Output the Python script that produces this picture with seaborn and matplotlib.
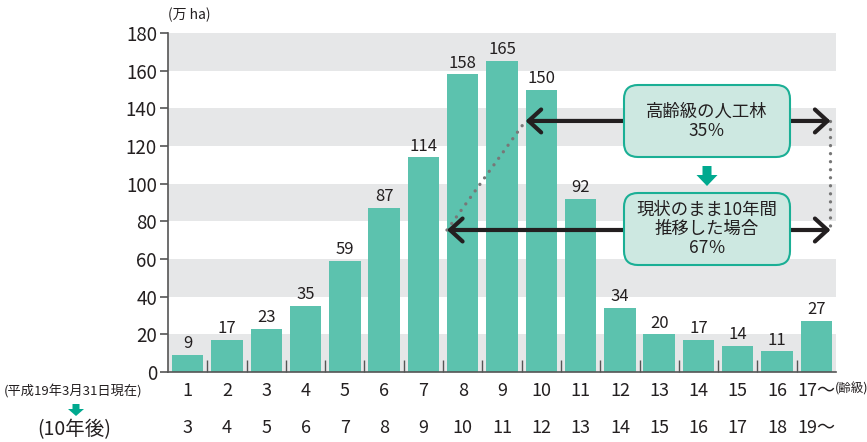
import matplotlib
matplotlib.use("Agg")
import matplotlib.pyplot as plt
import seaborn as sns
import pandas as pd
from matplotlib.patches import FancyBboxPatch, FancyArrow, FancyArrowPatch
from matplotlib.transforms import blended_transform_factory

# Age classes of planted forest (now, and ten years later)
age_class_now = ["1", "2", "3", "4", "5", "6", "7", "8", "9", "10",
                 "11", "12", "13", "14", "15", "16", "17～"]
age_class_later = ["3", "4", "5", "6", "7", "8", "9", "10", "11", "12",
                   "13", "14", "15", "16", "17", "18", "19～"]
# Area (10,000 ha)
area = [9, 17, 23, 35, 59, 87, 114, 158, 165, 150, 92, 34, 20, 17, 14, 11, 27]

y_ticks = [0, 20, 40, 60, 80, 100, 120, 140, 160, 180]
share_now = "35％"
share_later = "67％"

BAR = "#5cc2ae"
BAND = "#e6e7e8"
AXIS = "#555555"
TEXT = "#231f20"
TEAL = "#00a98f"
BOX_FILL = "#cde8e1"
BOX_EDGE = "#1aaf95"

sns.set_theme(style="white")
plt.rcParams["font.family"] = ["Noto Sans CJK JP", "DejaVu Sans"]
plt.rcParams["text.color"] = TEXT

fig = plt.figure(figsize=(8.67, 4.42), dpi=100)
ax = fig.add_axes([168 / 867, 70 / 442, 668 / 867, 339 / 442])

df = pd.DataFrame({"class": age_class_now, "area": area})
sns.barplot(data=df, x="class", y="area", order=age_class_now, color=BAR,
            saturation=1, width=0.8, linewidth=0, ax=ax, zorder=2)

ax.set_xlim(-0.5, 16.5)
ax.set_ylim(0, 180)
ax.set_xlabel("")
ax.set_ylabel("")

# alternating grey bands
for lo in y_ticks[:-1:2]:
    ax.axhspan(lo, lo + 20, color=BAND, lw=0, zorder=0)

for s in ["top", "right"]:
    ax.spines[s].set_visible(False)
for s in ["left", "bottom"]:
    ax.spines[s].set_color(AXIS)
    ax.spines[s].set_linewidth(1.2)
    ax.spines[s].set_zorder(3)

ax.set_yticks(y_ticks)
ax.tick_params(axis="y", direction="out", length=6, width=1.2, color=AXIS,
               labelsize=13.5, labelcolor=TEXT, pad=2, left=True)
ax.set_xticks(range(len(age_class_now)), age_class_now)
ax.tick_params(axis="x", which="major", length=0, labelsize=13, labelcolor=TEXT, pad=7)
ax.set_xticks([i + 0.5 for i in range(len(age_class_now) - 1)], minor=True)
ax.tick_params(axis="x", which="minor", direction="in", length=9, width=1,
               color=AXIS, bottom=True)

# value labels
ax.bar_label(ax.containers[0], labels=[str(v) for v in area], padding=2,
             fontsize=12, color=TEXT)

# second row: age class after ten years
btr = blended_transform_factory(ax.transData, ax.transAxes)
for i, lab in enumerate(age_class_later):
    ax.text(i, -0.165, lab, transform=btr, ha="center", va="center",
            fontsize=13, color=TEXT, clip_on=False)

fig.text(835 / 867, (442 - 389) / 442, "(齢級)", ha="left", va="center",
         fontsize=9, color=TEXT)
fig.text(73 / 867, (442 - 391) / 442, "(平成19年3月31日現在)", ha="center",
         va="center", fontsize=9.5, color=TEXT)
fig.text(74 / 867, (442 - 430) / 442, "(10年後)", ha="center", va="center",
         fontsize=14, color=TEXT)
fig.text(168 / 867, (442 - 15) / 442, "(万 ha)", ha="left", va="center",
         fontsize=10, color=TEXT)

# span arrows: share of forest aged class 10 and over
x_right = 16.36
y_now, y_later = 133.3, 75.4
x_now = age_class_now.index("10") - 0.4
x_later = age_class_now.index("8") - 0.4

dot = dict(color="#777777", lw=2.4, ls=(0, (0.01, 2.4)), dash_capstyle="round",
           zorder=3, clip_on=False)
ax.plot([x_later, x_now], [y_later, y_now], **dot)
ax.plot([x_right, x_right], [y_now, y_later], **dot)

for x0, y0 in [(x_now, y_now), (x_later, y_later)]:
    arr = FancyArrowPatch((x0, y0), (x_right, y0),
                          arrowstyle="<->,head_length=0.6,head_width=0.55",
                          mutation_scale=15, lw=3, color=TEXT,
                          shrinkA=0, shrinkB=0, zorder=4, clip_on=False)
    ax.add_patch(arr)

inch = fig.dpi_scale_trans
for (bx, by, bw, bh), txt in [((6.24, 2.85, 1.66, 0.72), "高齢級の人工林\n" + share_now),
                              ((6.24, 1.77, 1.66, 0.72), "現状のまま10年間\n推移した場合\n" + share_later)]:
    box = FancyBboxPatch((bx, by), bw, bh,
                         boxstyle="round,pad=0,rounding_size=0.14",
                         transform=inch, facecolor=BOX_FILL, edgecolor=BOX_EDGE,
                         lw=1.5, zorder=5)
    fig.add_artist(box)
    fig.text((bx + bw / 2) / 8.67, (by + bh / 2) / 4.42, txt, ha="center",
             va="center", fontsize=12.5, color=TEXT, linespacing=1.1, zorder=6)

# small downward block arrows
for ax_x, top, length, w, hw, hl in [(7.07, 2.76, 0.20, 0.09, 0.21, 0.11),
                                     (0.76, 0.38, 0.12, 0.07, 0.16, 0.07)]:
    fa = FancyArrow(ax_x, top, 0, -length, width=w, head_width=hw,
                    head_length=hl, length_includes_head=True, transform=inch,
                    color=TEAL, lw=0, zorder=6)
    fig.add_artist(fa)

fig.savefig("out.png", dpi=100)
